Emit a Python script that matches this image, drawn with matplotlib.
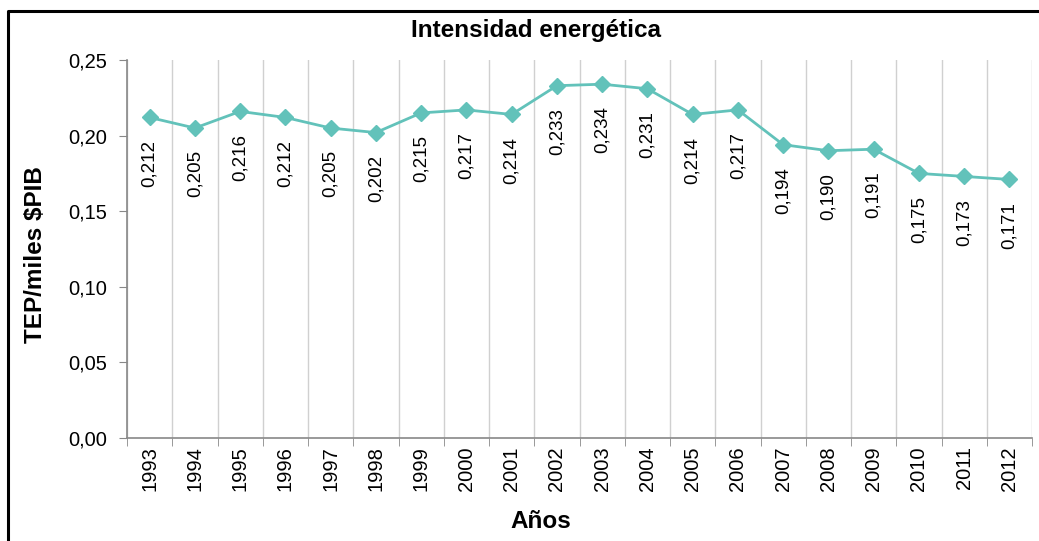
import matplotlib
matplotlib.use("Agg")
import matplotlib.pyplot as plt
from matplotlib.lines import Line2D
import numpy as np

years = ["1993", "1994", "1995", "1996", "1997", "1998", "1999", "2000", "2001", "2002",
         "2003", "2004", "2005", "2006", "2007", "2008", "2009", "2010", "2011", "2012"]
values = [0.212, 0.205, 0.216, 0.212, 0.205, 0.202, 0.215, 0.217, 0.214, 0.233,
          0.234, 0.231, 0.214, 0.217, 0.194, 0.190, 0.191, 0.175, 0.173, 0.171]
yticks = [0.00, 0.05, 0.10, 0.15, 0.20, 0.25]

plt.rcParams['font.family'] = ['Liberation Sans', 'DejaVu Sans']

W, H = 1039, 541
fig = plt.figure(figsize=(W / 100, H / 100), dpi=100)
ax = fig.add_axes([127 / W, (H - 438) / H, (1032 - 127) / W, (438 - 60) / H])

x = np.arange(len(years))
color = '#62C2BA'
ax.plot(x, values, color=color, lw=2, marker='D', markersize=8, zorder=3)

for xi, v in zip(x, values):
    ax.annotate(f"{v:.3f}".replace('.', ','), (xi, v), xytext=(0, -16),
                textcoords='offset points', rotation=90, ha='center', va='top',
                fontsize=13.5, color='#000000')

ax.set_xlim(-0.5, len(years) - 0.5)
ax.set_ylim(0, 0.25)
ax.set_yticks(yticks)
ax.set_yticklabels([f"{t:.2f}".replace('.', ',') for t in yticks], fontsize=14.5)
ax.set_xticks(x)
ax.set_xticklabels(years, rotation=90, fontsize=14.5)
ax.set_xticks(np.arange(-0.5, len(years)), minor=True)
ax.tick_params(axis='x', which='major', length=0, pad=6)
ax.tick_params(axis='x', which='minor', length=6, color='#888888')
ax.tick_params(axis='y', length=6, color='#888888', pad=8)
ax.grid(True, axis='x', which='minor', color='#D0D0D0', lw=1)
ax.grid(False, axis='x', which='major')
for s in ['top', 'right']:
    ax.spines[s].set_visible(False)
for s in ['left', 'bottom']:
    ax.spines[s].set_color('#888888')
    ax.spines[s].set_linewidth(1.2)

fig.text(536 / W, 1 - 31 / H, "Intensidad energética", ha='center', va='center',
         fontsize=17.5, fontweight='bold')
fig.text(36 / W, 1 - 255 / H, "TEP/miles $PIB", ha='center', va='center',
         rotation=90, fontsize=17.5, fontweight='bold')
fig.text(541 / W, 1 - 522 / H, "Años", ha='center', va='center',
         fontsize=17.5, fontweight='bold')

fig.add_artist(Line2D([8 / W, 8 / W, 1.01], [-0.01, 1 - 11 / H, 1 - 11 / H],
                      transform=fig.transFigure, color='black', lw=2.2))

fig.savefig("out.png", dpi=100)
